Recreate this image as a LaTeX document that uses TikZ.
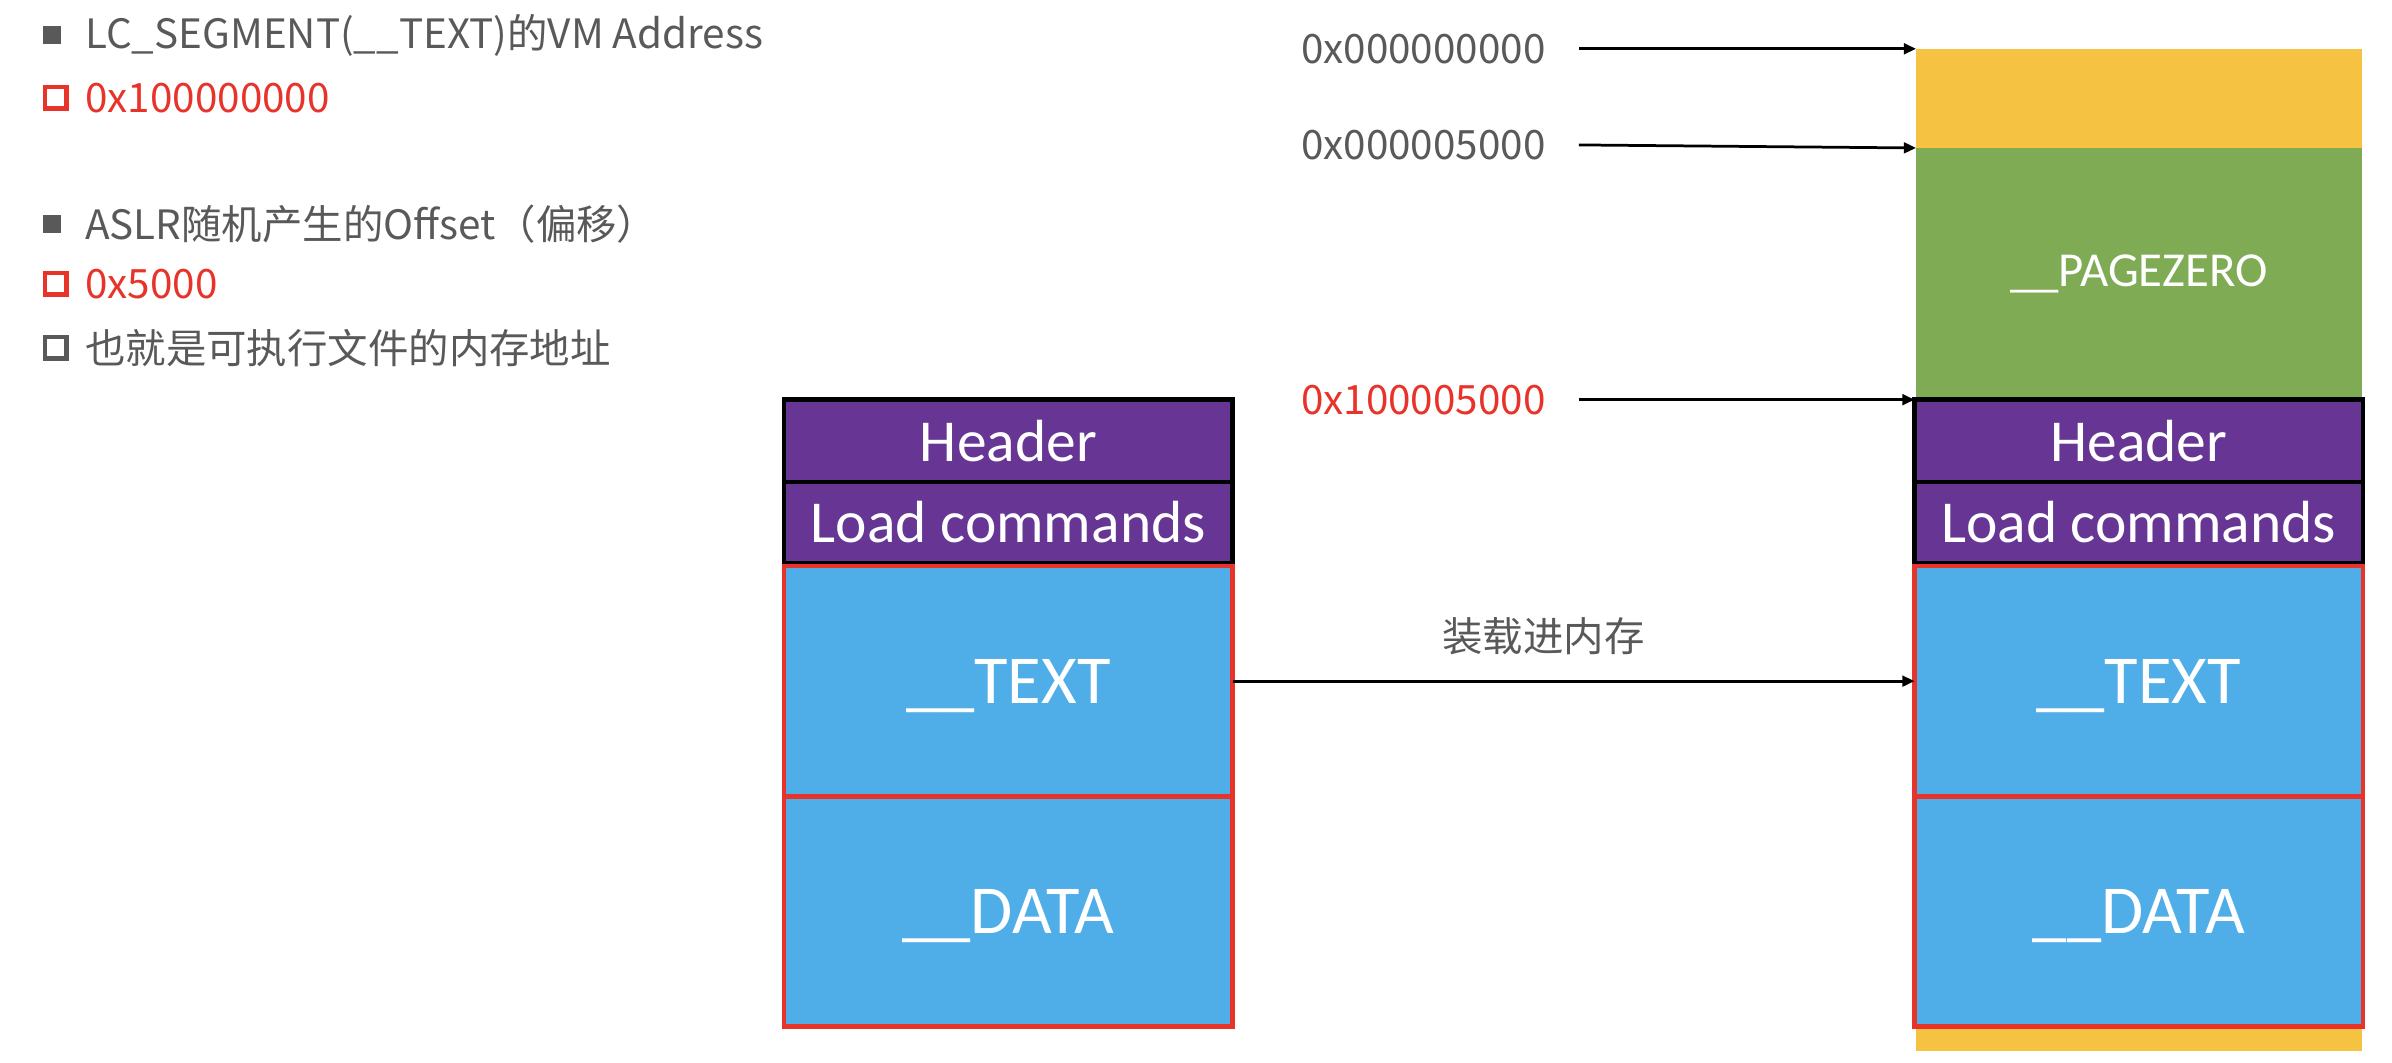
\documentclass[tikz,border=0pt]{standalone}
\usepackage{fontspec}
\setmainfont{Carlito}
\newfontfamily\cjk{Noto Sans CJK SC}
\usetikzlibrary{positioning,arrows.meta}
\definecolor{txtgray}{HTML}{595959}
\definecolor{segred}{HTML}{E8332A}
\definecolor{hdrpurple}{HTML}{673695}
\definecolor{segblue}{HTML}{4FADE8}
\definecolor{zerogreen}{HTML}{7FAB55}
\definecolor{padyellow}{HTML}{F5C242}

\begin{document}
\begin{tikzpicture}[x=1pt,y=-1pt,>={Triangle[length=8pt,width=7pt]},
		line width=1.8pt,
		seg/.style={rectangle,minimum width=294pt,inner sep=0pt,outer sep=0pt,text=white,line width=3pt},
		hdrbox/.style={seg,draw=black,fill=hdrpurple,minimum height=#1,font=\fontsize{39}{41}\selectfont},
		databox/.style={seg,draw=segred,fill=segblue,minimum height=#1,text depth=0pt,font=\fontsize{45}{48}\selectfont},
		memfill/.style={rectangle,inner sep=0pt,outer sep=0pt,anchor=north west,minimum width=292pt},
		addr/.style={anchor=east,inner sep=0pt,font=\cjk\fontsize{26.5}{30}\selectfont},
		note/.style={anchor=west,inner sep=0pt,text=txtgray,font=\cjk\fontsize{26.5}{30}\selectfont},
		fillmark/.style={rectangle,fill=txtgray,minimum size=12pt,inner sep=0pt},
		boxmark/.style={rectangle,draw=#1,line width=3pt,minimum size=14pt,inner sep=0pt}]
	\useasboundingbox (0,0) rectangle (1568,696.2);

	% notes on the left
	\node[fillmark] (m1) at (34,23) {};
	\node[note] (n1) at (55,23) {LC\_SEGMENT(\_\_TEXT)的VM Address};
	\node[boxmark=segred] (m2) at (36.5,64) {};
	\node[note,text=segred] (n2) at (55,64) {0x100000000};
	\node[fillmark] (m3) at (34,147) {};
	\node[note] (n3) at (55,147) {ASLR随机产生的Offset（偏移）};
	\node[boxmark=segred] (m4) at (36.5,186) {};
	\node[note,text=segred] (n4) at (55,186) {0x5000};
	\node[boxmark=txtgray] (m5) at (36.5,228) {};
	\node[note] (n5) at (55,228) {也就是可执行文件的内存地址};

	% mach-o file
	\node[hdrbox=54pt] (lhdr) at (661,289) {Header};
	\node[hdrbox=53pt,below=0pt of lhdr] (llc) {Load commands};
	\node[databox=151pt,below=2pt of llc] (ltext) {\_\_TEXT};
	\node[databox=151pt,below=0pt of ltext] (ldata) {\_\_DATA};

	% memory
	\node[memfill,fill=padyellow,minimum height=657pt] (rpad) at (1256,32) {};
	\node[memfill,fill=zerogreen,minimum height=165pt,text=white,
		font=\fontsize{32}{34}\selectfont] (rzero) at (1256,97) {\_\_PAGEZERO};
	\node[hdrbox=54pt] (rhdr) at (1402,289) {Header};
	\node[hdrbox=53pt,below=0pt of rhdr] (rlc) {Load commands};
	\node[databox=151pt,below=2pt of rlc] (rtext) {\_\_TEXT};
	\node[databox=151pt,below=0pt of rtext] (rdata) {\_\_DATA};

	% addresses
	\node[addr,text=txtgray] (a0) at (1014,32) {0x000000000};
	\node[addr,text=txtgray] (a5) at (1014,95) {0x000005000};
	\node[addr,text=segred] (a1) at (1014,262) {0x100005000};
	\draw[->] ([xshift=21pt]a0.east) -- (rpad.north west);
	\draw[->] ([xshift=21pt]a5.east) -- (rzero.north west);
	\draw[->] ([xshift=21pt]a1.east) -- (rhdr.north west);

	\draw[->] (ltext.east) -- node[pos=0.456,above=16pt,note,anchor=south] {装载进内存} (rtext.west);
\end{tikzpicture}
\end{document}
